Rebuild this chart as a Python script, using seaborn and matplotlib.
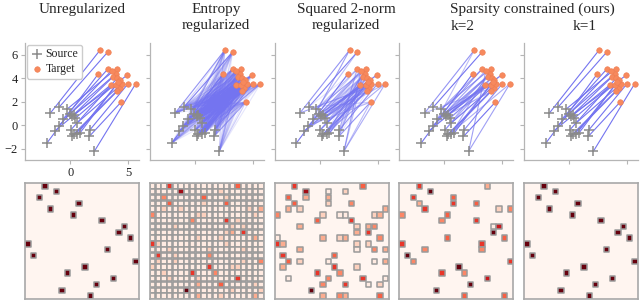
import numpy as np
import pandas as pd
import matplotlib
matplotlib.use("Agg")
import matplotlib.pyplot as plt
import seaborn as sns

source_x = [-1.7, -0.95, -0.3, -0.6, -0.05, 0.15, 0.3, 0.45, 0.6, -1.0,
            -1.35, 0.05, 0.3, 0.6, 0.85, 0.2, 1.7, 1.65, -2.0, 2.1]
source_y = [1.05, 1.55, 1.35, 0.55, 0.95, 0.75, 0.9, 0.6, 0.2, -0.05,
            -0.5, -0.4, -0.75, -0.75, -0.65, -0.95, -0.4, -0.95, -1.5, -2.2]
target_x = [3.53, 4.28, 4.02, 2.59, 3.94, 3.25, 2.44, 4.05, 3.73, 3.25,
            3.99, 5.66, 4.4, 4.94, 4.08, 5.0, 4.48, 4.31, 3.59, 4.16]
target_y = [3.45, 3.17, 4.83, 6.4, 4.38, 6.23, 4.38, 2.88, 4.15, 4.78,
            3.45, 3.53, 1.97, 4.27, 4.02, 3.53, 3.53, 3.85, 4.66, 3.67]

# Plan sin regularizar (y k=1): columna asignada a cada fila
perm_unreg = [3, 5, 2, 9, 4, 8, 13, 17, 16, 18, 0, 14, 1, 19, 10, 7, 15, 12, 6, 11]
perm_k1 = [3, 5, 2, 9, 4, 8, 13, 17, 16, 18, 0, 14, 1, 19, 10, 7, 15, 12, 6, 11]

# Plan entrópico: intensidad 1..9 por celda
entropy_rows = [
    "11161111111111151111",
    "11111811111121111111",
    "11411111151112111111",
    "11151111121115111111",
    "11211211111111111213",
    "41111111221111111121",
    "11111114111116121111",
    "11112111111111212111",
    "11111111111112316111",
    "11111111211121111131",
    "62111111111112111111",
    "11121111112111112111",
    "16112111114111111111",
    "12112111111111112114",
    "21111111116111221111",
    "11211116111411111111",
    "11121111211111161111",
    "11111111311151111121",
    "11111191111111211112",
    "11111111311121111131",
]

# Plan con norma 2 al cuadrado: (fila, columna, intensidad)
l2_cells = [
    (0, 3, 6), (0, 15, 5),
    (1, 5, 8), (1, 9, 1), (1, 12, 2),
    (2, 2, 5), (2, 5, 3), (2, 9, 3),
    (3, 3, 5), (3, 9, 2), (3, 13, 4),
    (4, 2, 3), (4, 4, 2), (4, 19, 3),
    (5, 0, 4), (5, 8, 2), (5, 11, 1), (5, 12, 1), (5, 17, 2), (5, 18, 3),
    (6, 7, 5), (6, 13, 6),
    (7, 4, 3), (7, 14, 2), (7, 16, 3), (7, 17, 4),
    (8, 14, 3), (8, 16, 6),
    (9, 0, 1), (9, 8, 3), (9, 11, 2), (9, 12, 3), (9, 18, 4),
    (10, 0, 6), (10, 1, 3), (10, 14, 2), (10, 16, 2),
    (11, 4, 3), (11, 14, 1), (11, 17, 4), (11, 19, 3),
    (12, 1, 6), (12, 10, 5),
    (13, 2, 5), (13, 4, 2), (13, 9, 1), (13, 17, 1), (13, 19, 3),
    (14, 1, 3), (14, 10, 6), (14, 14, 2),
    (15, 7, 6), (15, 11, 4),
    (16, 2, 1), (16, 9, 4), (16, 15, 6), (16, 19, 1),
    (17, 8, 4), (17, 12, 6), (17, 16, 1), (17, 18, 2),
    (18, 6, 9),
    (19, 8, 3), (19, 11, 4), (19, 12, 3), (19, 18, 5),
]

# Plan con restricción de esparsidad k=2
k2_cells = [
    (0, 3, 6), (0, 15, 3), (1, 5, 9), (2, 2, 6), (2, 9, 5),
    (3, 3, 3), (3, 9, 6), (3, 13, 5), (4, 4, 6), (4, 17, 2), (4, 19, 4),
    (5, 0, 4), (5, 8, 5), (6, 7, 4), (6, 13, 6), (7, 16, 1), (7, 17, 7),
    (8, 16, 9), (9, 8, 5), (9, 18, 5), (10, 0, 6), (10, 14, 6),
    (11, 4, 4), (11, 14, 4), (12, 1, 9), (13, 2, 4), (13, 19, 6),
    (14, 10, 9), (15, 7, 6), (15, 11, 4), (16, 15, 7), (17, 12, 9),
    (18, 6, 9), (19, 11, 5), (19, 18, 5),
]

titulos = ["Unregularized", "Entropy\nregularized", "Squared 2-norm\nregularized"]
titulo_ours = "Sparsity constrained (ours)"
sub_ours = ["k=2", "k=1"]

n = len(source_x)


def plan_perm(perm):
    P = np.zeros((n, n))
    for i, j in enumerate(perm):
        P[i, j] = 9
    return P


def plan_celdas(cells):
    P = np.zeros((n, n))
    for r, c, l in cells:
        P[r, c] = l
    return P


def a_valor(P):
    # intensidad 1..9 -> valor 0..1
    return np.where(P > 0, (P - 0.5) / 8.5, 0.0)


planes = [
    plan_perm(perm_unreg),
    np.array([[int(ch) for ch in fila] for fila in entropy_rows], dtype=float),
    plan_celdas(l2_cells),
    plan_celdas(k2_cells),
    plan_perm(perm_k1),
]
planes = [a_valor(P) for P in planes]

sns.set_theme(style="ticks")
plt.rcParams['font.family'] = ['Liberation Serif', 'DejaVu Serif']
plt.rcParams['axes.unicode_minus'] = True

W, H = 640, 301
fig = plt.figure(figsize=(W / 100, H / 100), dpi=100)

color_linea = "#7474f0"
color_fuente = "#8a8a8a"
color_destino = "#f7895d"
gris_borde = "#9a9a9a"

for k, V in enumerate(planes):
    left = (25 + k * 124.75) / W
    ax = fig.add_axes([left, 1 - 160 / H, 114 / W, 117 / H])

    # líneas del plan de transporte
    for i in range(n):
        for j in range(n):
            if V[i, j] > 0:
                ax.plot([source_x[i], target_x[j]], [source_y[i], target_y[j]],
                        color=color_linea, lw=0.8, alpha=min(1.0, V[i, j] ** 0.6),
                        zorder=1)

    sns.scatterplot(x=source_x, y=source_y, marker="+", s=45, color=color_fuente,
                    linewidth=1.1, label="Source", ax=ax, zorder=3)
    sns.scatterplot(x=target_x, y=target_y, marker="o", s=16, color=color_destino,
                    edgecolor="#ee7d52", linewidth=0.4, label="Target", ax=ax, zorder=4)

    ax.set_xlim(-3.9, 5.95)
    ax.set_ylim(-2.95, 7.0)
    ax.set_xticks([0, 5])
    ax.set_yticks([-2, 0, 2, 4, 6])
    sns.despine(ax=ax)
    for sp in ["left", "bottom"]:
        ax.spines[sp].set_color("#b5b5b5")
        ax.spines[sp].set_linewidth(0.9)
    ax.tick_params(labelsize=9, length=3, width=0.8, color="#b5b5b5",
                   labelcolor="#222222", pad=2)
    if k == 0:
        ax.legend(loc="upper left", fontsize=8.5, frameon=True, borderpad=0.3,
                  labelspacing=0.25, handletextpad=0.1, handlelength=1.2,
                  borderaxespad=0.15, edgecolor="#cccccc", framealpha=1)
    else:
        if ax.get_legend():
            ax.get_legend().remove()
        ax.tick_params(labelleft=False, labelbottom=False)

    # matriz del plan: un cuadrado por celda no nula
    filas, cols = np.nonzero(V)
    df = pd.DataFrame({"fila": filas, "col": cols, "valor": V[filas, cols]})
    axm = fig.add_axes([left, 1 - 299 / H, 114 / W, 116 / H])
    sns.scatterplot(data=df, x="col", y="fila", hue="valor", palette="Reds",
                    hue_norm=(0, 1), marker="s", s=15, edgecolor=gris_borde,
                    linewidth=1.1, legend=False, ax=axm)
    axm.set_xlim(-0.5, n - 0.5)
    axm.set_ylim(n - 0.5, -0.5)
    axm.set_xticks([])
    axm.set_yticks([])
    axm.set_xlabel("")
    axm.set_ylabel("")
    axm.set_facecolor("#fff5f0")
    for sp in axm.spines.values():
        sp.set_visible(True)
        sp.set_color("#a8a8a8")
        sp.set_linewidth(1.2)

# títulos
centros_titulo = [82, 216, 346]
for cx, t in zip(centros_titulo, titulos):
    for li, linea in enumerate(t.split("\n")):
        fig.text(cx / W, 1 - (12.5 + 17 * li) / H, linea, ha="center",
                 va="baseline", fontsize=11)
fig.text(532 / W, 1 - 12.5 / H, titulo_ours, ha="center", va="baseline", fontsize=11)
for cx, t in zip([463, 585], sub_ours):
    fig.text(cx / W, 1 - 29.5 / H, t, ha="center", va="baseline", fontsize=11)

fig.savefig("out.png", dpi=100)
